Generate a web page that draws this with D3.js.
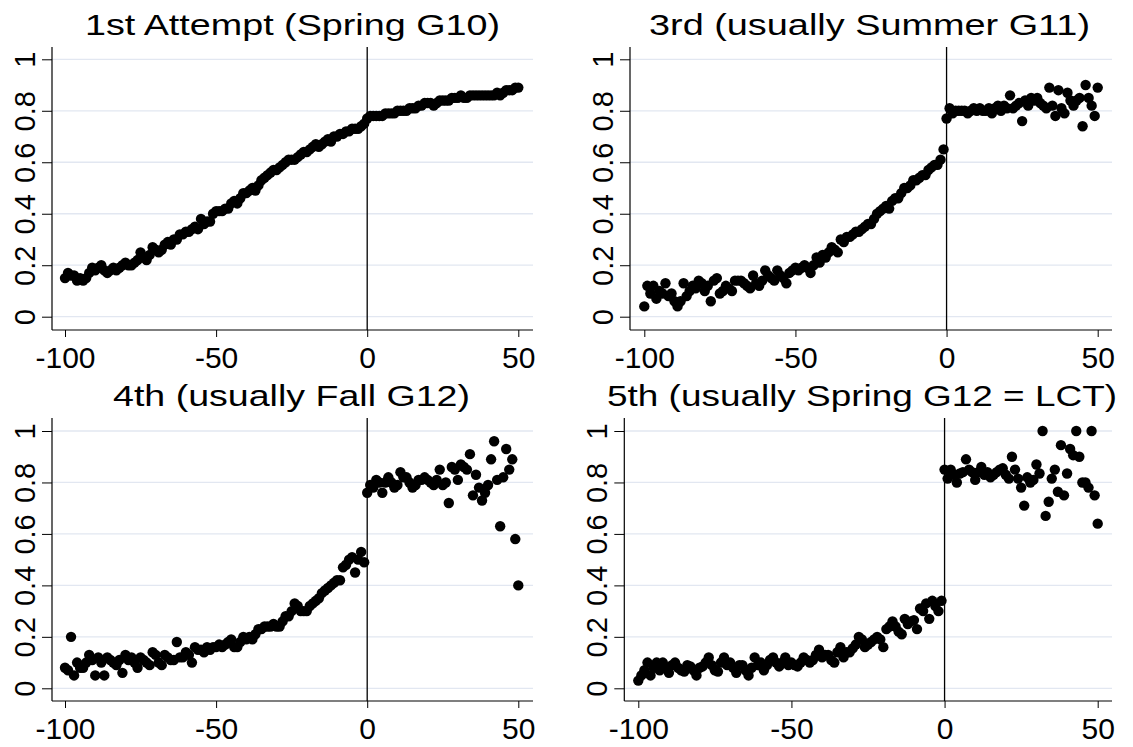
<!DOCTYPE html>
<html>
<head>
<meta charset="utf-8">
<script src="https://cdn.jsdelivr.net/npm/d3@7"></script>
<style>
  html, body { margin: 0; padding: 0; background: #ffffff; }
  svg { display: block; }
  text { font-family: "Liberation Sans", Arial, Helvetica, sans-serif; fill: #000; }
</style>
</head>
<body>
<svg id="chart" width="1133" height="747"></svg>
<script>
// Running variable (score distance from cut-off)
const belowX = d3.range(-100, 0);
const aboveX = d3.range(0, 51);

const xTicks = [-100, -50, 0, 50];
const xTickLabels = ["-100", "-50", "0", "50"];
const yTicks = [0, 0.2, 0.4, 0.6, 0.8, 1];
const yTickLabels = ["0", "0.2", "0.4", "0.6", "0.8", "1"];

const panelTitles = [
  "1st Attempt (Spring G10)",
  "3rd (usually Summer G11)",
  "4th (usually Fall G12)",
  "5th (usually Spring G12 = LCT)"
];

// Share passing, 1st attempt
const first_below = [
  .15,.17,.16,.16,.14,.15,.14,.15,.17,.19,
  .18,.19,.20,.18,.17,.18,.19,.18,.19,.20,
  .21,.20,.20,.21,.22,.25,.23,.22,.24,.27,
  .26,.25,.26,.28,.29,.28,.30,.30,.32,.32,
  .33,.33,.34,.35,.34,.38,.36,.37,.37,.40,
  .41,.41,.41,.42,.42,.44,.45,.44,.46,.48,
  .48,.49,.50,.49,.51,.53,.54,.55,.56,.57,
  .57,.58,.59,.60,.61,.61,.61,.62,.63,.64,
  .64,.65,.66,.67,.66,.67,.68,.69,.68,.70,
  .70,.71,.71,.72,.72,.73,.73,.73,.74,.75
];
const first_above = [
  .77,.78,.78,.78,.78,.78,.79,.79,.79,.79,
  .80,.80,.80,.80,.81,.81,.81,.82,.82,.83,
  .83,.83,.82,.83,.84,.84,.84,.84,.85,.85,
  .85,.86,.85,.85,.86,.86,.86,.86,.86,.86,
  .86,.86,.86,.87,.86,.87,.88,.88,.88,.89,
  .89
];

// 3rd attempt
const third_below = [
  .04,.12,.09,.12,.07,.10,.09,.13,.08,.09,
  .06,.04,.06,.13,.08,.10,.12,.11,.14,.13,
  .10,.12,.06,.14,.15,.09,.10,.12,.11,.10,
  .14,.14,.14,.13,.12,.11,.16,.13,.12,.14,
  .18,.16,.15,.14,.18,.16,.15,.13,.17,.18,
  .19,.18,.19,.20,.19,.17,.20,.23,.21,.24,
  .23,.25,.27,.26,.25,.30,.29,.31,.31,.32,
  .33,.33,.34,.35,.36,.36,.38,.40,.41,.42,
  .43,.42,.45,.46,.46,.48,.50,.50,.51,.53,
  .53,.54,.55,.55,.57,.58,.59,.59,.61,.65
];
const third_above = [
  .77,.81,.79,.80,.80,.80,.80,.79,.80,.81,
  .80,.81,.80,.80,.81,.79,.81,.82,.80,.82,
  .81,.86,.81,.82,.83,.76,.84,.82,.85,.84,
  .85,.83,.82,.81,.89,.82,.78,.88,.81,.79,
  .87,.84,.82,.84,.85,.74,.90,.85,.82,.78,
  .89
];

// 4th attempt
const fourth_below = [
  .08,.07,.20,.05,.10,.08,.08,.10,.13,.11,
  .05,.12,.10,.05,.12,.11,.10,.09,.11,.06,
  .13,.11,.12,.10,.08,.12,.11,.10,.09,.14,
  .13,.10,.09,.13,.12,.11,.11,.18,.12,.12,
  .14,.13,.10,.16,.15,.15,.14,.16,.15,.16,
  .16,.17,.16,.17,.18,.19,.16,.16,.18,.20,
  .19,.20,.19,.21,.23,.23,.24,.24,.24,.25,
  .24,.24,.26,.28,.28,.30,.33,.32,.30,.30,
  .30,.32,.33,.34,.35,.37,.38,.39,.40,.41,
  .42,.42,.47,.48,.50,.51,.45,.50,.53,.49
];
const fourth_above = [
  .76,.79,.78,.81,.80,.76,.80,.82,.80,.78,
  .79,.84,.82,.82,.80,.78,.79,.81,.81,.82,
  .81,.80,.79,.81,.85,.79,.80,.72,.86,.85,
  .81,.87,.86,.85,.91,.75,.83,.78,.73,.76,
  .79,.89,.96,.81,.63,.82,.93,.85,.89,.58,
  .40
];

// 5th attempt
const fifth_below = [
  .03,.05,.07,.10,.05,.08,.10,.07,.10,.08,
  .06,.09,.10,.08,.07,.065,.09,.085,.07,.05,
  .08,.085,.10,.12,.09,.07,.065,.10,.12,.09,
  .10,.08,.06,.09,.09,.07,.05,.08,.12,.09,
  .10,.07,.09,.11,.12,.10,.085,.10,.12,.09,
  .10,.09,.085,.10,.12,.11,.10,.11,.13,.15,
  .12,.13,.13,.11,.10,.14,.16,.12,.14,.14,
  .155,.17,.20,.19,.16,.17,.18,.19,.20,.19,
  .16,.23,.24,.26,.24,.22,.21,.27,.25,.26,
  .265,.23,.31,.30,.33,.27,.34,.32,.30,.34
];
const fifth_above = [
  .85,.815,.85,.83,.80,.835,.84,.89,.85,.84,
  .81,.84,.86,.83,.84,.82,.83,.84,.85,.855,
  .83,.815,.90,.85,.815,.78,.71,.82,.80,.81,
  .87,.835,1.0,.67,.725,.815,.85,.764,.945,.75,
  .835,.93,.906,1.0,.90,.80,.80,.78,1.0,.75,
  .64
];

const seriesBelow = [first_below, third_below, fourth_below, fifth_below];
const seriesAbove = [first_above, third_above, fourth_above, fifth_above];

// Panel frames in page pixels
const panels = [
  { axisX: 52,    right: 533,  top: 47,  xr: [65, 518.3],    yr: [316.7, 59.3], base: 330, titleX: 85,  titleW: 415, titleY: 35 },
  { axisX: 630,   right: 1112, top: 47,  xr: [644.3, 1097.7], yr: [316.7, 59.3], base: 330, titleX: 649, titleW: 441, titleY: 35 },
  { axisX: 52,    right: 533,  top: 418, xr: [65, 518.3],    yr: [688.3, 431],  base: 701, titleX: 113, titleW: 357, titleY: 406 },
  { axisX: 624.3, right: 1112, top: 418, xr: [638.3, 1097.7], yr: [688.3, 431],  base: 701, titleX: 607, titleW: 510, titleY: 406 }
];

const svg = d3.select("#chart");

panels.forEach((p, i) => {
  const x = d3.scaleLinear().domain([-100, 50]).range(p.xr);
  const y = d3.scaleLinear().domain([0, 1]).range(p.yr);
  const g = svg.append("g");

  // horizontal grid
  g.selectAll("line.grid").data(yTicks).enter().append("line")
    .attr("class", "grid")
    .attr("x1", p.axisX).attr("x2", p.right)
    .attr("y1", d => y(d)).attr("y2", d => y(d))
    .attr("stroke", "#e2e7f1").attr("stroke-width", 1.3);

  // y axis
  const yAxis = d3.axisLeft(y).tickValues(yTicks)
    .tickFormat((d, k) => yTickLabels[k]).tickSize(10).tickPadding(6);
  const ya = g.append("g").attr("transform", `translate(${p.axisX},0)`).call(yAxis);
  ya.select(".domain").remove();
  ya.selectAll(".tick line").attr("stroke", "#000");
  ya.selectAll(".tick text")
    .attr("font-size", 29)
    .attr("x", null).attr("dy", null)
    .attr("text-anchor", "middle")
    .attr("transform", "translate(-17,0) rotate(-90)")
    .attr("y", 0);
  g.append("line")
    .attr("x1", p.axisX).attr("x2", p.axisX)
    .attr("y1", p.top).attr("y2", p.base)
    .attr("stroke", "#000").attr("stroke-width", 1.2);

  // x axis
  const xAxis = d3.axisBottom(x).tickValues(xTicks)
    .tickFormat((d, k) => xTickLabels[k]).tickSize(7).tickPadding(8);
  const xa = g.append("g").attr("transform", `translate(0,${p.base})`).call(xAxis);
  xa.select(".domain").remove();
  xa.selectAll(".tick line").attr("stroke", "#000");
  xa.selectAll(".tick text")
    .attr("font-size", 30)
    .attr("dy", null).attr("y", 38);
  g.append("line")
    .attr("x1", p.axisX).attr("x2", p.right)
    .attr("y1", p.base).attr("y2", p.base)
    .attr("stroke", "#000").attr("stroke-width", 1.2);

  // cut-off line
  g.append("line")
    .attr("x1", x(0)).attr("x2", x(0))
    .attr("y1", p.top).attr("y2", p.base)
    .attr("stroke", "#000").attr("stroke-width", 1.3);

  // points
  const pts = belowX.map((v, k) => [v, seriesBelow[i][k]])
    .concat(aboveX.map((v, k) => [v, seriesAbove[i][k]]));
  g.selectAll("circle").data(pts).enter().append("circle")
    .attr("cx", d => x(d[0])).attr("cy", d => y(d[1]))
    .attr("r", 5.2).attr("fill", "#000");

  // title
  g.append("text")
    .attr("x", p.titleX).attr("y", p.titleY)
    .attr("font-size", 30)
    .attr("textLength", p.titleW)
    .attr("lengthAdjust", "spacingAndGlyphs")
    .text(panelTitles[i]);
});
</script>
</body>
</html>
